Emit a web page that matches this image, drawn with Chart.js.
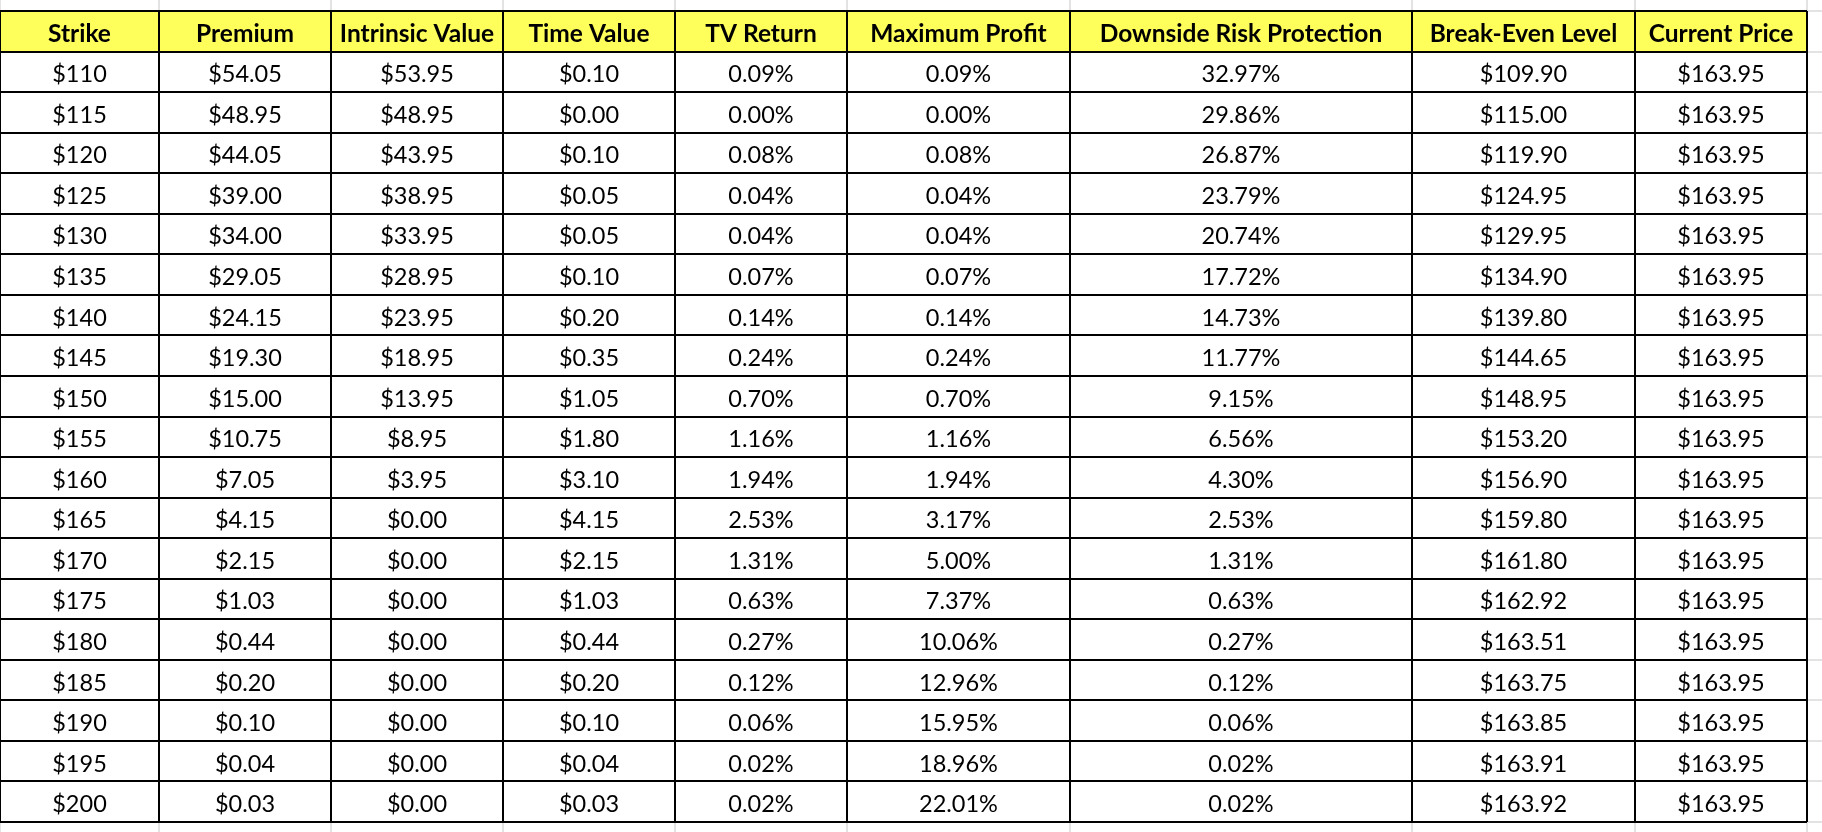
<!DOCTYPE html>
<html>
<head>
<meta charset="utf-8">
<script src="https://cdn.jsdelivr.net/npm/chart.js"></script>
<style>
  html, body { margin: 0; padding: 0; background: #fff; }
  #wrap { width: 1822px; height: 832px; }
</style>
</head>
<body>
<div id="wrap"><canvas id="myChart" width="1822" height="832"></canvas></div>
<script>
// table header
const headers = ['Strike', 'Premium', 'Intrinsic Value', 'Time Value', 'TV Return',
  'Maximum Profit', 'Downside Risk Protection', 'Break-Even Level', 'Current Price'];

// table values
const strikes = [110, 115, 120, 125, 130, 135, 140, 145, 150, 155, 160, 165, 170, 175, 180, 185, 190, 195, 200];
const premium = [54.05, 48.95, 44.05, 39.00, 34.00, 29.05, 24.15, 19.30, 15.00, 10.75, 7.05, 4.15, 2.15, 1.03, 0.44, 0.20, 0.10, 0.04, 0.03];
const intrinsic = [53.95, 48.95, 43.95, 38.95, 33.95, 28.95, 23.95, 18.95, 13.95, 8.95, 3.95, 0, 0, 0, 0, 0, 0, 0, 0];
const timeValue = [0.10, 0.00, 0.10, 0.05, 0.05, 0.10, 0.20, 0.35, 1.05, 1.80, 3.10, 4.15, 2.15, 1.03, 0.44, 0.20, 0.10, 0.04, 0.03];
const tvReturn = [0.09, 0.00, 0.08, 0.04, 0.04, 0.07, 0.14, 0.24, 0.70, 1.16, 1.94, 2.53, 1.31, 0.63, 0.27, 0.12, 0.06, 0.02, 0.02];
const maxProfit = [0.09, 0.00, 0.08, 0.04, 0.04, 0.07, 0.14, 0.24, 0.70, 1.16, 1.94, 3.17, 5.00, 7.37, 10.06, 12.96, 15.95, 18.96, 22.01];
const downside = [32.97, 29.86, 26.87, 23.79, 20.74, 17.72, 14.73, 11.77, 9.15, 6.56, 4.30, 2.53, 1.31, 0.63, 0.27, 0.12, 0.06, 0.02, 0.02];
const breakEven = [109.90, 115.00, 119.90, 124.95, 129.95, 134.90, 139.80, 144.65, 148.95, 153.20, 156.90, 159.80, 161.80, 162.92, 163.51, 163.75, 163.85, 163.91, 163.92];
const currentPrice = [163.95, 163.95, 163.95, 163.95, 163.95, 163.95, 163.95, 163.95, 163.95, 163.95, 163.95, 163.95, 163.95, 163.95, 163.95, 163.95, 163.95, 163.95, 163.95];

// layout: column widths in x-axis units
const colWidths = [159, 172, 172, 172, 172, 223, 342, 223, 172];

const money = v => '$' + v.toFixed(2);
const pct = v => v.toFixed(2) + '%';

const columns = [
  strikes.map(v => '$' + v),
  premium.map(money),
  intrinsic.map(money),
  timeValue.map(money),
  tvReturn.map(pct),
  maxProfit.map(pct),
  downside.map(pct),
  breakEven.map(money),
  currentPrice.map(money)
];

const colEdges = [0];
colWidths.forEach(w => colEdges.push(colEdges[colEdges.length - 1] + w));
const totalWidth = colEdges[colEdges.length - 1];
const rowCount = strikes.length + 1;
const rowEdges = [];
for (let i = 0; i <= rowCount; i++) rowEdges.push(i);

const FONT = 'Lato, "Open Sans", sans-serif';
const BODY_SIZE = 23.5;
const HEAD_SIZE = 24.5;

const tablePlugin = {
  id: 'table',
  beforeDraw(chart) {
    const ctx = chart.ctx;
    const x = chart.scales.x, y = chart.scales.y;
    // header background
    ctx.save();
    ctx.fillStyle = '#ffff5c';
    const top = y.getPixelForValue(0), bot = y.getPixelForValue(1);
    ctx.fillRect(x.getPixelForValue(0), top, x.getPixelForValue(totalWidth) - x.getPixelForValue(0), bot - top);

    // faint sheet gridlines outside the table
    ctx.strokeStyle = '#e3e3e3';
    ctx.lineWidth = 2;
    ctx.beginPath();
    colEdges.forEach(v => {
      const px = Math.round(x.getPixelForValue(v));
      ctx.moveTo(px, 0);
      ctx.lineTo(px, chart.chartArea.top);
      ctx.moveTo(px, chart.chartArea.bottom);
      ctx.lineTo(px, chart.height);
    });
    rowEdges.forEach(v => {
      const py = Math.round(y.getPixelForValue(v));
      ctx.moveTo(chart.chartArea.right, py);
      ctx.lineTo(chart.width, py);
    });
    ctx.stroke();
    ctx.restore();
  },
  afterDraw(chart) {
    const ctx = chart.ctx;
    const x = chart.scales.x, y = chart.scales.y;
    ctx.save();
    ctx.fillStyle = '#000';
    ctx.textAlign = 'center';
    ctx.textBaseline = 'alphabetic';
    const drawRow = (texts, r, bold) => {
      const size = bold ? HEAD_SIZE : BODY_SIZE;
      ctx.font = (bold ? 'bold ' : '') + size + 'px ' + FONT;
      const cy = y.getPixelForValue(r + 0.5);
      texts.forEach((t, c) => {
        const cx = x.getPixelForValue(colEdges[c] + colWidths[c] / 2);
        ctx.fillText(t, cx, cy + size * 0.36 + 2);
      });
    };
    drawRow(headers, 0, true);
    strikes.forEach((s, i) => drawRow(columns.map(col => col[i]), i + 1, false));
    ctx.restore();
  }
};

const gridOpts = { color: '#000', lineWidth: 2, drawTicks: false };

const ctx = document.getElementById('myChart').getContext('2d');
const myChart = new Chart(ctx, {
  type: 'scatter',
  data: { datasets: [{ data: [], pointRadius: 0 }] },
  options: {
    responsive: false,
    animation: false,
    devicePixelRatio: 1,
    layout: { padding: { left: 0, right: 15, top: 11, bottom: 10 } },
    plugins: { legend: { display: false }, tooltip: { enabled: false } },
    scales: {
      x: {
        type: 'linear', min: 0, max: totalWidth,
        border: { display: false },
        grid: gridOpts,
        ticks: { display: false },
        afterBuildTicks: s => { s.ticks = colEdges.map(v => ({ value: v })); }
      },
      y: {
        type: 'linear', min: 0, max: rowCount, reverse: true,
        border: { display: false },
        grid: gridOpts,
        ticks: { display: false },
        afterBuildTicks: s => { s.ticks = rowEdges.map(v => ({ value: v })); }
      }
    }
  },
  plugins: [tablePlugin]
});
</script>
</body>
</html>
